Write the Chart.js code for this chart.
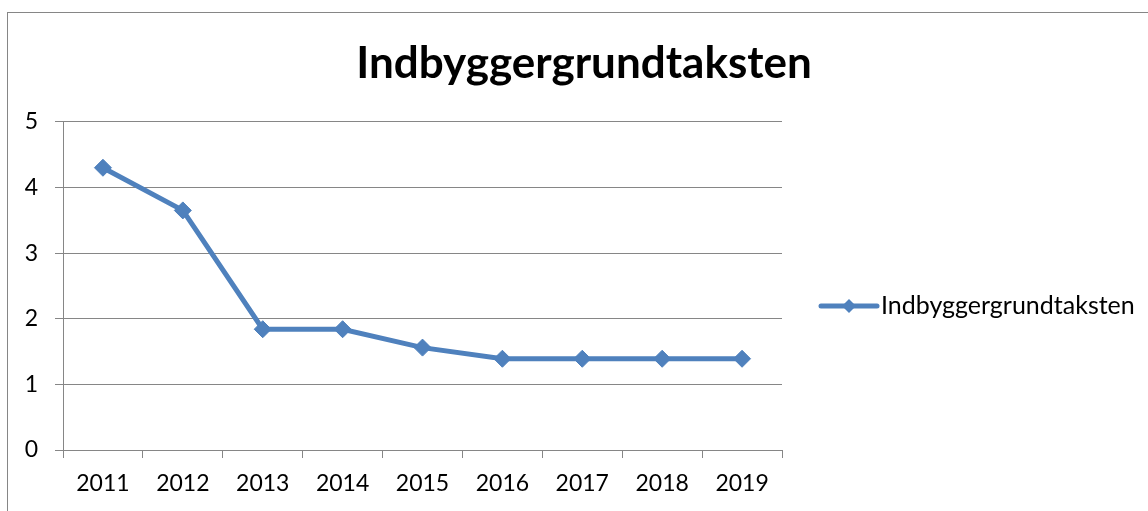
<!DOCTYPE html>
<html>
<head>
<meta charset="utf-8">
<script src="https://cdn.jsdelivr.net/npm/chart.js@4.4.1/dist/chart.umd.min.js"></script>
<style>
  html, body { margin: 0; padding: 0; background: #fff; }
  #wrap { width: 1148px; height: 511px; position: relative; }
</style>
</head>
<body>
<div id="wrap"><canvas id="chart"></canvas></div>
<script>
// data
const years = ["2011", "2012", "2013", "2014", "2015", "2016", "2017", "2018", "2019"];
const values = [4.3, 3.65, 1.84, 1.84, 1.56, 1.39, 1.39, 1.39, 1.39];
const seriesName = "Indbyggergrundtaksten";
const yTicks = [0, 1, 2, 3, 4, 5];

const lineColor = "#4F81BD";
const gridColor = "#868686";
const fontFamily = "Lato, 'Open Sans', sans-serif";

// outer frame like the spreadsheet chart box
const framePlugin = {
  id: "frame",
  beforeDraw(chart) {
    const ctx = chart.ctx;
    ctx.save();
    ctx.fillStyle = "#fff";
    ctx.fillRect(0, 0, chart.width, chart.height);
    ctx.strokeStyle = gridColor;
    ctx.lineWidth = 1;
    ctx.strokeRect(7.5, 12.5, chart.width + 40, chart.height + 40);
    ctx.restore();
  }
};

// legend: line with diamond marker + label, to the right of the plot
const legendPlugin = {
  id: "sideLegend",
  afterDraw(chart) {
    const ctx = chart.ctx;
    const area = chart.chartArea;
    const ds = chart.data.datasets[0];
    const x0 = area.right + 39;
    const x1 = area.right + 95;
    const y = (area.top + area.bottom) / 2 + 20;
    ctx.save();
    ctx.strokeStyle = ds.borderColor;
    ctx.lineWidth = 5;
    ctx.lineCap = "round";
    ctx.beginPath();
    ctx.moveTo(x0, y);
    ctx.lineTo(x1, y);
    ctx.stroke();
    const cx = (x0 + x1) / 2, r = 7;
    ctx.fillStyle = ds.borderColor;
    ctx.beginPath();
    ctx.moveTo(cx, y - r);
    ctx.lineTo(cx + r, y);
    ctx.lineTo(cx, y + r);
    ctx.lineTo(cx - r, y);
    ctx.closePath();
    ctx.fill();
    ctx.fillStyle = "#000";
    ctx.font = "25px " + fontFamily;
    ctx.textBaseline = "middle";
    ctx.textAlign = "left";
    ctx.fillText(ds.label, x1 + 4, y);
    ctx.restore();
  }
};

new Chart(document.getElementById("chart"), {
  type: "line",
  data: {
    labels: years,
    datasets: [{
      label: seriesName,
      data: values,
      borderColor: lineColor,
      backgroundColor: lineColor,
      borderWidth: 5,
      tension: 0,
      pointStyle: "rectRot",
      pointRadius: 8.5,
      pointBorderWidth: 1,
      pointBackgroundColor: lineColor,
      pointBorderColor: lineColor
    }]
  },
  options: {
    responsive: true,
    maintainAspectRatio: false,
    animation: false,
    layout: { padding: { left: 20, right: 0, top: 0, bottom: 0 } },
    plugins: {
      legend: { display: false },
      tooltip: { enabled: false },
      title: {
        display: true,
        text: seriesName,
        color: "#000",
        font: { family: fontFamily, size: 44, weight: "bold" },
        padding: { top: 37, bottom: 32 }
      }
    },
    scales: {
      x: {
        type: "category",
        offset: true,
        grid: {
          offset: true,
          drawOnChartArea: false,
          drawTicks: true,
          tickLength: 8,
          color: gridColor
        },
        border: { display: true, color: gridColor, width: 1 },
        ticks: {
          color: "#000",
          font: { family: fontFamily, size: 23 },
          padding: 12,
          maxRotation: 0
        },
        afterFit(scale) { scale.height = 61; }
      },
      y: {
        min: 0,
        max: 5,
        afterBuildTicks(scale) { scale.ticks = yTicks.map(v => ({ value: v })); },
        grid: { color: gridColor, tickLength: 8, drawTicks: true },
        border: { display: true, color: gridColor, width: 1 },
        ticks: {
          color: "#000",
          font: { family: fontFamily, size: 23 },
          padding: 17
        },
        afterFit(scale) { scale.width = 43; }
      },
      // empty axis on the right that reserves room for the legend
      side: {
        position: "right",
        display: true,
        grid: { display: false, drawTicks: false },
        border: { display: false },
        ticks: { display: false },
        afterFit(scale) { scale.width = 366; }
      }
    }
  },
  plugins: [framePlugin, legendPlugin]
});
</script>
</body>
</html>
